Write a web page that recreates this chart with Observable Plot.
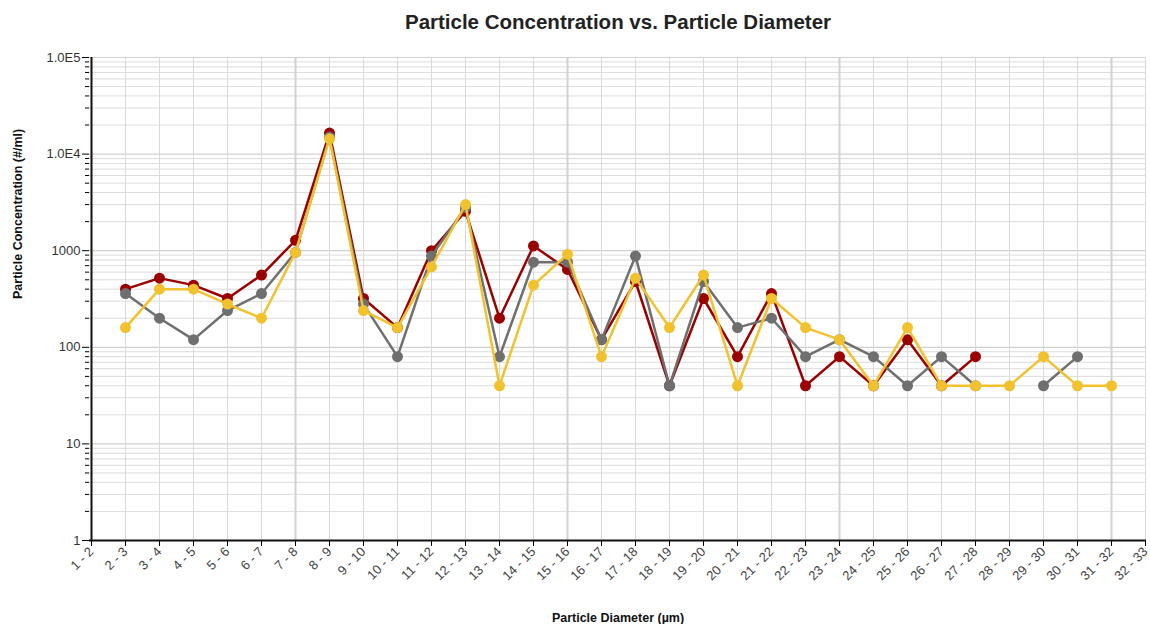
<!DOCTYPE html>
<html>
<head>
<meta charset="utf-8">
<script src="https://cdn.jsdelivr.net/npm/d3@7"></script>
<script src="https://cdn.jsdelivr.net/npm/@observablehq/plot@0.6"></script>
<style>
  body { margin: 0; background: #fff; }
  #chart svg { display: block; }
</style>
</head>
<body>
<div id="chart"></div>
<script>
const categories = ["1 - 2","2 - 3","3 - 4","4 - 5","5 - 6","6 - 7","7 - 8","8 - 9","9 - 10","10 - 11","11 - 12","12 - 13","13 - 14","14 - 15","15 - 16","16 - 17","17 - 18","18 - 19","19 - 20","20 - 21","21 - 22","22 - 23","23 - 24","24 - 25","25 - 26","26 - 27","27 - 28","28 - 29","29 - 30","30 - 31","31 - 32","32 - 33"];
const redValues = [null,400,520,440,320,560,1280,16500,320,160,1000,2560,200,1120,640,120,480,40,320,80,360,40,80,40,120,40,80,null,null,null,null,null];
const grayValues = [null,360,200,120,240,360,960,15000,280,80,880,2800,80,760,760,120,880,40,480,160,200,80,120,80,40,80,40,null,40,80,null,null];
const yellowValues = [null,160,400,400,280,200,960,14400,240,160,680,3000,40,440,920,80,520,160,560,40,320,160,120,40,160,40,40,40,80,40,40,null];
const majorTicks = [1,10,100,1000,10000,100000];
const majorLabels = ["1","10","100","1000","1.0E4","1.0E5"];
const titleText = "Particle Concentration vs. Particle Diameter";
const xLabel = "Particle Diameter (µm)";
const yLabel = "Particle Concentration (#/ml)";

const minorTicks = [];
for (let e = 0; e < 5; e++) for (let m = 2; m <= 9; m++) minorTicks.push(m * Math.pow(10, e));

const toData = vals => categories.map((c, i) => ({cat: c, v: vals[i]}));
const red = toData(redValues), gray = toData(grayValues), yellow = toData(yellowValues);
const heavyCats = categories.filter((c, i) => i % 8 === 6);

const colors = {red: "#9a0000", gray: "#6f6f6f", yellow: "#f2c12e"};

const seriesMarks = (data, color) => [
  Plot.line(data, {x: "cat", y: "v", stroke: color, strokeWidth: 2.5}),
  Plot.dot(data, {x: "cat", y: "v", fill: color, r: 5.5})
];

const chart = Plot.plot({
  width: 1150,
  height: 624,
  marginLeft: 89,
  marginRight: 4,
  marginTop: 57,
  marginBottom: 84,
  style: {fontFamily: "'Liberation Sans', Arial, sans-serif", fontSize: "13px", background: "#fff"},
  x: {type: "point", domain: categories, padding: 0},
  y: {type: "log", domain: [1, 100000]},
  marks: [
    Plot.ruleY(minorTicks, {stroke: "#dcdcdc", strokeWidth: 1}),
    Plot.ruleY(majorTicks, {stroke: "#d0d0d0", strokeWidth: 1.2}),
    Plot.ruleX(categories, {stroke: "#dadada", strokeWidth: 1}),
    Plot.ruleX(heavyCats, {stroke: "#d2d2d2", strokeWidth: 2}),
    Plot.axisY({ticks: majorTicks, tickFormat: (d) => majorLabels[majorTicks.indexOf(d)], tickSize: 7, tickPadding: 2, label: null, fill: "#333", fontSize: 13}),
    Plot.axisY({ticks: minorTicks, tickFormat: () => "", tickSize: 4, label: null}),
    Plot.axisX({tickRotate: -45, tickSize: 6, tickPadding: 3, label: null, fill: "#444", fontSize: 13}),
    Plot.ruleY([1], {stroke: "#111", strokeWidth: 2}),
    Plot.ruleX([categories[0]], {stroke: "#111", strokeWidth: 2}),
    ...seriesMarks(red, colors.red),
    ...seriesMarks(gray, colors.gray),
    ...seriesMarks(yellow, colors.yellow),
    Plot.text([titleText], {frameAnchor: "top", dy: -43, fontSize: 20.5, fontWeight: "bold", fill: "#222", text: d => d}),
    Plot.text([xLabel], {frameAnchor: "bottom", dy: 81, fontSize: 12.5, fontWeight: "bold", fill: "#111", text: d => d}),
    Plot.text([yLabel], {frameAnchor: "left", dx: -72, rotate: -90, fontSize: 12.5, fontWeight: "bold", fill: "#111", text: d => d})
  ]
});
document.getElementById("chart").appendChild(chart);
</script>
</body>
</html>
